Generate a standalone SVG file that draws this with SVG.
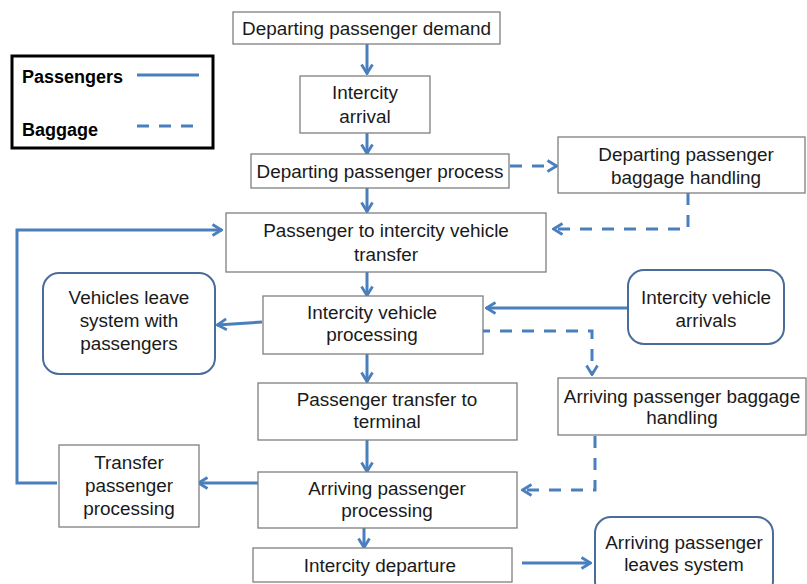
<svg xmlns="http://www.w3.org/2000/svg" width="807" height="584" viewBox="0 0 807 584">
  <style>
    .box { fill: #ffffff; stroke: #7f7f7f; stroke-width: 1.3; }
    .rbox { fill: #ffffff; stroke: #4a6c9b; stroke-width: 2; }
    .t { font-family: "Liberation Sans", Arial, sans-serif; font-size: 18.9px; fill: #1a1a1a; text-anchor: middle; }
    .lg { font-family: "Liberation Sans", Arial, sans-serif; font-size: 18px; font-weight: bold; fill: #000000; }
    .c { fill: none; stroke: #4a7fbd; stroke-width: 3; }
    .d { stroke-dasharray: 12 10; }
  </style>
  <defs>
    <marker id="arr" viewBox="0 0 12 14" refX="11" refY="7" markerWidth="12" markerHeight="14" markerUnits="userSpaceOnUse" orient="auto">
      <path d="M1.5,1.5 L10.5,7 L1.5,12.5" fill="none" stroke="#4a7fbd" stroke-width="2.8"/>
    </marker>
  </defs>
  <rect width="807" height="584" fill="#ffffff"/>

  <!-- legend -->
  <g id="legend">
    <rect x="12" y="56" width="201" height="92" fill="#ffffff" stroke="#000000" stroke-width="3"/>
    <text class="lg" x="22" y="83">Passengers</text>
    <text class="lg" x="22" y="136">Baggage</text>
    <line x1="137" y1="75" x2="199" y2="75" class="c"/>
    <line x1="137" y1="126" x2="199" y2="126" class="c" stroke-dasharray="12 10"/>
  </g>

  <!-- connectors -->
  <g id="connectors">
    <line class="c" x1="367" y1="44" x2="367" y2="74" marker-end="url(#arr)"/>
    <line class="c" x1="367" y1="133" x2="367" y2="154" marker-end="url(#arr)"/>
    <line class="c" x1="367" y1="188" x2="367" y2="212" marker-end="url(#arr)"/>
    <line class="c d" x1="510" y1="166" x2="557" y2="166" marker-end="url(#arr)"/>
    <polyline class="c d" points="688,193 688,229 553,229" marker-end="url(#arr)"/>
    <polyline class="c" points="57,483 17,483 17,230 222,230" marker-end="url(#arr)"/>
    <line class="c" x1="367" y1="272" x2="367" y2="296" marker-end="url(#arr)"/>
    <line class="c" x1="262" y1="322" x2="217" y2="325" marker-end="url(#arr)"/>
    <line class="c" x1="628" y1="308" x2="486" y2="308" marker-end="url(#arr)"/>
    <polyline class="c d" points="478,331 592,331 592,375" marker-end="url(#arr)"/>
    <line class="c" x1="367" y1="354" x2="367" y2="382" marker-end="url(#arr)"/>
    <line class="c" x1="367" y1="440" x2="367" y2="472" marker-end="url(#arr)"/>
    <polyline class="c d" points="595,436 595,490 522,490" marker-end="url(#arr)"/>
    <line class="c" x1="258" y1="483" x2="198" y2="483" marker-end="url(#arr)"/>
    <line class="c" x1="364" y1="528" x2="364" y2="548" marker-end="url(#arr)"/>
    <line class="c" x1="522" y1="563" x2="591" y2="563" marker-end="url(#arr)"/>
  </g>

  <g id="n-demand">
    <rect class="box" x="233" y="12" width="267" height="32"/>
    <text class="t" x="366.5" y="35">Departing passenger demand</text>
  </g>
  <g id="n-intercity-arrival">
    <rect class="box" x="300" y="76" width="130" height="57"/>
    <text class="t" x="365" y="99">Intercity</text>
    <text class="t" x="365" y="123">arrival</text>
  </g>
  <g id="n-dep-process">
    <rect class="box" x="251" y="154" width="258" height="34"/>
    <text class="t" x="380" y="178">Departing passenger process</text>
  </g>
  <g id="n-dep-baggage">
    <rect class="box" x="558" y="137" width="247" height="56"/>
    <text class="t" x="686" y="161">Departing passenger</text>
    <text class="t" x="686" y="184">baggage handling</text>
  </g>
  <g id="n-to-vehicle">
    <rect class="box" x="226" y="213" width="320" height="59"/>
    <text class="t" x="386" y="237">Passenger to intercity vehicle</text>
    <text class="t" x="386" y="261">transfer</text>
  </g>
  <g id="n-vehicles-leave">
    <rect class="rbox" x="43" y="273" width="172" height="101" rx="16"/>
    <text class="t" x="129" y="304">Vehicles leave</text>
    <text class="t" x="129" y="327">system with</text>
    <text class="t" x="129" y="350">passengers</text>
  </g>
  <g id="n-vehicle-processing">
    <rect class="box" x="263" y="296" width="220" height="58"/>
    <text class="t" x="372" y="319">Intercity vehicle</text>
    <text class="t" x="372" y="341">processing</text>
  </g>
  <g id="n-vehicle-arrivals">
    <rect class="rbox" x="628" y="270" width="156" height="74" rx="16"/>
    <text class="t" x="706" y="304">Intercity vehicle</text>
    <text class="t" x="706" y="327">arrivals</text>
  </g>
  <g id="n-arr-baggage">
    <rect class="box" x="558" y="378" width="248" height="57"/>
    <text class="t" x="682" y="403">Arriving passenger baggage</text>
    <text class="t" x="682" y="424">handling</text>
  </g>
  <g id="n-to-terminal">
    <rect class="box" x="258" y="383" width="259" height="57"/>
    <text class="t" x="387" y="406">Passenger transfer to</text>
    <text class="t" x="387" y="428">terminal</text>
  </g>
  <g id="n-transfer-processing">
    <rect class="box" x="59" y="445" width="140" height="82"/>
    <text class="t" x="129" y="469">Transfer</text>
    <text class="t" x="129" y="492">passenger</text>
    <text class="t" x="129" y="515">processing</text>
  </g>
  <g id="n-arr-processing">
    <rect class="box" x="258" y="472" width="259" height="56"/>
    <text class="t" x="387" y="495">Arriving passenger</text>
    <text class="t" x="387" y="517">processing</text>
  </g>
  <g id="n-departure">
    <rect class="box" x="253" y="548" width="259" height="34"/>
    <text class="t" x="380" y="572">Intercity departure</text>
  </g>
  <g id="n-leaves-system">
    <rect class="rbox" x="595" y="517" width="178" height="80" rx="16"/>
    <text class="t" x="684" y="549">Arriving passenger</text>
    <text class="t" x="684" y="571">leaves system</text>
  </g>
</svg>
